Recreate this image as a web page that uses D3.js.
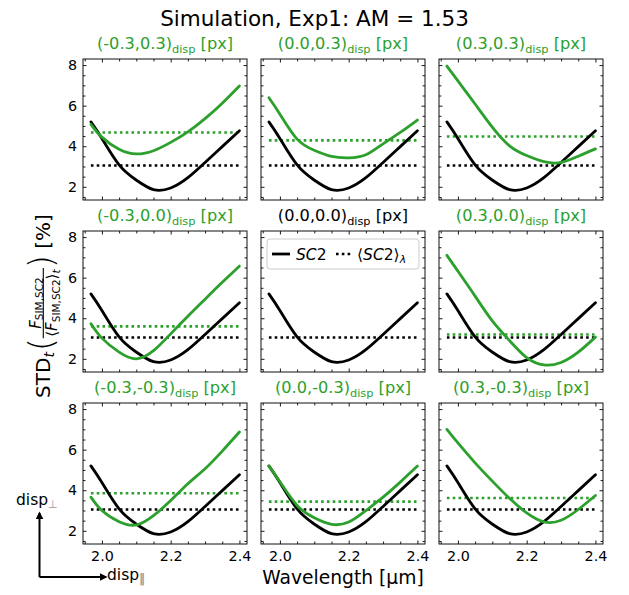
<!DOCTYPE html>
<html><head><meta charset="utf-8">
<script src="https://cdn.jsdelivr.net/npm/d3@7"></script>
<style>body{margin:0;background:#fff} svg{display:block;font-family:"DejaVu Sans",sans-serif}</style>
</head><body><svg id="c" width="629" height="595"></svg>
<script>
// ---------- data ----------
const wavelength = [1.968, 2.00, 2.05, 2.10, 2.15, 2.20, 2.25, 2.30, 2.35, 2.40];
const sc2Ref     = [5.20, 4.38, 3.08, 2.33, 1.86, 1.94, 2.45, 3.20, 3.98, 4.76];
const sc2RefMean = 3.05;
const dispPar  = ["-0.3", "0.0", "0.3"];   // columns
const dispPerp = ["0.3", "0.0", "-0.3"];   // rows
const g_m03_p03 = [5.08, 4.45, 3.85, 3.62, 3.78, 4.19, 4.71, 5.36, 6.12, 6.97];
const g_000_p03 = [6.39, 5.58, 4.35, 3.80, 3.50, 3.43, 3.58, 4.12, 4.68, 5.29];
const g_p03_p03 = [7.95, 7.22, 6.08, 4.94, 4.02, 3.54, 3.24, 3.20, 3.51, 3.87];
const g_m03_000 = [3.73, 3.02, 2.33, 2.00, 2.40, 3.23, 4.10, 4.94, 5.77, 6.57];
const g_000_000 = null;
const g_p03_000 = [7.10, 6.32, 5.09, 3.87, 2.90, 2.06, 1.70, 1.82, 2.33, 3.07];
const g_m03_m03 = [3.66, 3.00, 2.45, 2.29, 2.75, 3.49, 4.32, 5.06, 5.93, 6.87];
const g_000_m03 = [5.19, 4.42, 3.25, 2.64, 2.32, 2.43, 3.00, 3.66, 4.40, 5.19];
const g_p03_m03 = [7.00, 6.33, 5.35, 4.45, 3.60, 2.88, 2.44, 2.52, 3.05, 3.74];
const greenMeans = [4.68, 4.29, 4.48, 3.60, null, 3.20, 3.85, 3.44, 3.62];
const xTicks = [1.95, 2.00, 2.05, 2.10, 2.15, 2.20, 2.25, 2.30, 2.35, 2.40];
const xTickLabels = [2.0, 2.2, 2.4];
const yTicks = [1.5, 2, 2.5, 3, 3.5, 4, 4.5, 5, 5.5, 6, 6.5, 7, 7.5, 8];
const yTickLabels = [2, 4, 6, 8];

const greenCurves = [g_m03_p03, g_000_p03, g_p03_p03, g_m03_000, g_000_000, g_p03_000, g_m03_m03, g_000_m03, g_p03_m03];

// ---------- layout ----------
const svg = d3.select("#c");
const colLeft = [83, 261, 439], rowTop = [59, 231, 403], pw = 164, ph = 141;
const GREEN = "#2ca02c";
const x = d3.scaleLinear().domain([1.945, 2.422]).range([0, pw]);
const y = d3.scaleLinear().domain([1.35, 8.3]).range([ph, 0]);
const line = d3.line().x((d, i) => x(wavelength[i])).y(d => y(d)).curve(d3.curveNatural);
const fmt = d3.format(".1f");

svg.append("text").attr("x", 314.5).attr("y", 26).attr("text-anchor", "middle")
  .attr("font-size", 21.5).text("Simulation, Exp1: AM = 1.53");

function styleAxis(g, showLabels, fs) {
  g.select(".domain").remove();
  g.selectAll(".tick line").attr("stroke", "#000").attr("stroke-width", 0.9);
  g.selectAll(".tick text").attr("font-family", "DejaVu Sans").attr("font-size", fs).attr("fill", "#000")
    .style("display", showLabels ? null : "none");
}

for (let r = 0; r < 3; r++) {
  for (let c = 0; c < 3; c++) {
    const k = r * 3 + c;
    const gp = svg.append("g").attr("transform", `translate(${colLeft[c]},${rowTop[r]})`);
    const isRef = (r === 1 && c === 1);
    // title
    const t = gp.append("text").attr("x", pw / 2).attr("y", -10).attr("text-anchor", "middle")
      .attr("font-size", 16.2).attr("fill", isRef ? "#000" : GREEN);
    t.append("tspan").text(`(${dispPar[c]},${dispPerp[r]})`);
    t.append("tspan").attr("font-size", 11.3).attr("dy", 3.5).text("disp");
    t.append("tspan").attr("dy", -3.5).text(" [px]");

    // ticks
    const minor = v => !xTickLabels.some(m => Math.abs(m - v) < 1e-6);
    const minorY = v => !yTickLabels.includes(v);
    const xb = d3.axisBottom(x).tickValues(xTicks).tickSize(-3.5).tickPadding(7).tickFormat(fmt);
    const gb = gp.append("g").attr("transform", `translate(0,${ph})`).call(xb);
    styleAxis(gb, r === 2, 14.3);
    gb.selectAll(".tick text").filter(d => minor(d)).remove();
    const gt = gp.append("g").call(d3.axisTop(x).tickValues(xTicks).tickSize(-3.5));
    styleAxis(gt, false, 14);
    const yl = d3.axisLeft(y).tickValues(yTicks).tickSize(-3.5).tickPadding(6).tickFormat(d3.format("d"));
    const gl = gp.append("g").call(yl);
    styleAxis(gl, c === 0, 14.3);
    gl.selectAll(".tick text").filter(d => minorY(d)).remove();
    const gr = gp.append("g").attr("transform", `translate(${pw},0)`).call(d3.axisRight(y).tickValues(yTicks).tickSize(-3.5));
    styleAxis(gr, false, 14);
    [gb, gt, gl, gr].forEach(g => g.selectAll(".tick line").filter(d => (g === gl || g === gr) ? minorY(d) : minor(d)).attr("y2", function(){ const v=d3.select(this).attr("y2"); return v===null?null:+v*0.7;}).attr("x2", function(){ const v=d3.select(this).attr("x2"); return v===null?null:+v*0.7;}));

    // reference curves
    const x0 = x(wavelength[0]), x1 = x(wavelength[wavelength.length - 1]);
    gp.append("line").attr("x1", x0).attr("x2", x1).attr("y1", y(sc2RefMean)).attr("y2", y(sc2RefMean))
      .attr("stroke", "#000").attr("stroke-width", 2.6).attr("stroke-dasharray", "2.6,3.2");
    if (greenCurves[k]) {
      gp.append("line").attr("x1", x0).attr("x2", x1).attr("y1", y(greenMeans[k])).attr("y2", y(greenMeans[k]))
        .attr("stroke", GREEN).attr("stroke-width", 2.6).attr("stroke-dasharray", "2.6,3.2");
    }
    gp.append("path").attr("d", line(sc2Ref)).attr("fill", "none").attr("stroke", "#000")
      .attr("stroke-width", 2.8).attr("stroke-linecap", "round");
    if (greenCurves[k]) {
      gp.append("path").attr("d", line(greenCurves[k])).attr("fill", "none").attr("stroke", GREEN)
        .attr("stroke-width", 2.8).attr("stroke-linecap", "round");
    }
    // frame
    gp.append("rect").attr("x", 0).attr("y", 0).attr("width", pw).attr("height", ph)
      .attr("fill", "none").attr("stroke", "#111").attr("stroke-width", 1);

    if (isRef) {
      const lg = gp.append("g").attr("transform", "translate(6,8)");
      lg.append("rect").attr("width", 152).attr("height", 30).attr("rx", 3)
        .attr("fill", "#fff").attr("fill-opacity", 0.8).attr("stroke", "#ccc").attr("stroke-width", 1);
      lg.append("line").attr("x1", 5).attr("x2", 23).attr("y1", 15).attr("y2", 15).attr("stroke", "#000").attr("stroke-width", 2.8);
      const l1 = lg.append("text").attr("x", 29).attr("y", 21).attr("font-size", 15.5);
      l1.append("tspan").attr("font-style", "italic").text("SC");
      l1.append("tspan").text("2");
      lg.append("line").attr("x1", 69).attr("x2", 86).attr("y1", 15).attr("y2", 15).attr("stroke", "#000")
        .attr("stroke-width", 2.6).attr("stroke-dasharray", "2.6,3.2");
      const l2 = lg.append("text").attr("x", 90).attr("y", 21).attr("font-size", 15.5);
      l2.append("tspan").text("\u27E8");
      l2.append("tspan").attr("font-style", "italic").text("SC");
      l2.append("tspan").text("2\u27E9");
      l2.append("tspan").attr("font-style", "italic").attr("font-size", 10.8).attr("dy", 3).text("\u03BB");
    }
  }
}

// x label
svg.append("text").attr("x", 343).attr("y", 584).attr("text-anchor", "middle").attr("font-size", 18.7).text("Wavelength [\u00B5m]");

// y label (rotated, built piece by piece)
(function () {
  const fs = 20, fsf = 15, fss = 10.5;
  const g = svg.append("g");
  let cur = 0;
  const put = (parent, txt, size, yy, italic) => {
    const t = parent.append("text").attr("x", 0).attr("y", yy).attr("font-size", size).text(txt);
    if (italic) t.attr("font-style", "italic");
    return t;
  };
  const place = (t) => { t.attr("x", cur); cur += t.node().getComputedTextLength(); };
  place(put(g, "STD", fs, 0));
  place(put(g, "t", 14, 4, true));
  cur += 1;
  const pl = put(g, "(", 33, 3.0).attr("font-weight", 300); place(pl);
  // fraction
  const num = g.append("g"), den = g.append("g");
  let nx = 0;
  const addTo = (grp, txt, size, yy, it) => { const t = put(grp, txt, size, yy, it).attr("x", nx); nx += t.node().getComputedTextLength(); };
  nx = 0; addTo(num, "F", fsf, -9.5, true); addTo(num, "SIM,SC2", fss, -7, false); const nw = nx;
  nx = 0; addTo(den, "\u27E8", fsf, 7, false); addTo(den, "F", fsf, 7, true); addTo(den, "SIM,SC2", fss, 9.5, false);
  addTo(den, "\u27E9", fsf, 7, false); addTo(den, "t", 10.5, 10, true); const dw = nx;
  const fw = Math.max(nw, dw) + 3;
  num.attr("transform", `translate(${cur + (fw - nw) / 2},0)`);
  den.attr("transform", `translate(${cur + (fw - dw) / 2},0)`);
  g.append("line").attr("x1", cur).attr("x2", cur + fw).attr("y1", -6.7).attr("y2", -6.7).attr("stroke", "#000").attr("stroke-width", 1.1);
  cur += fw;
  place(put(g, ")", 33, 3.0).attr("font-weight", 300));
  place(put(g, "\u00A0[%]", fs, 0));
  g.attr("transform", `translate(50,${306 + cur / 2}) rotate(-90)`);
})();

// displacement direction arrows
(function () {
  const a = svg.append("g");
  const defs = svg.append("defs");
  defs.append("marker").attr("id", "ah").attr("viewBox", "0 0 10 10").attr("refX", 8).attr("refY", 5)
    .attr("markerWidth", 4).attr("markerHeight", 4).attr("orient", "auto")
    .append("path").attr("d", "M0,0L10,5L0,10z").attr("fill", "#000");
  a.append("path").attr("d", "M39.5,577L39.5,513").attr("stroke", "#000").attr("stroke-width", 2).attr("marker-end", "url(#ah)");
  a.append("path").attr("d", "M39.5,577L106,577").attr("stroke", "#000").attr("stroke-width", 2).attr("marker-end", "url(#ah)");
  const t1 = a.append("text").attr("x", 16).attr("y", 505).attr("font-size", 15.5);
  t1.append("tspan").text("disp");
  t1.append("tspan").attr("fill", "#999").attr("font-size", 11).attr("dy", 3).text("\u22A5");
  const t2 = a.append("text").attr("x", 107).attr("y", 580).attr("font-size", 15.5);
  t2.append("tspan").text("disp");
  t2.append("tspan").attr("fill", "#999").attr("font-size", 12).attr("font-weight", "bold").attr("dy", 3).text("\u2016");
})();
</script></body></html>
